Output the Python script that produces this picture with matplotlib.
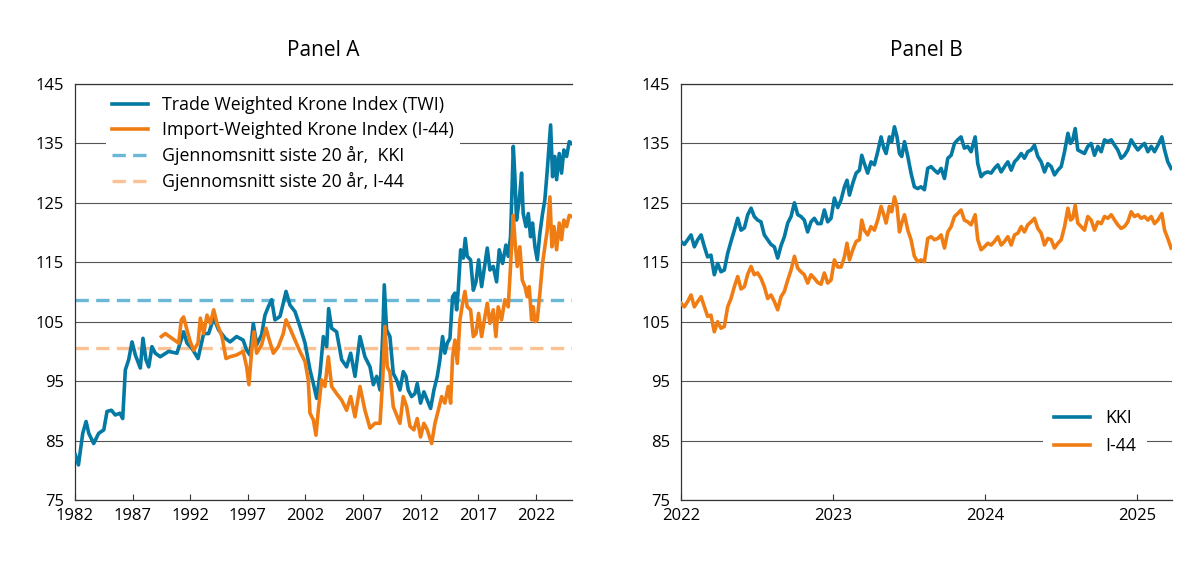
import numpy as np
import matplotlib

matplotlib.use("Agg")
import matplotlib.pyplot as plt

plt.rcParams["font.family"] = ["Open Sans", "DejaVu Sans"]

# Panel A: long history (decimal year, index)
a_twi_year = [1982.03, 1982.3, 1982.67, 1982.96, 1983.2, 1983.62, 1984.05, 1984.5,
              1984.78, 1985.16, 1985.5, 1985.9, 1986.14, 1986.37, 1986.66, 1986.95,
              1987.24, 1987.67, 1987.9, 1988.16, 1988.4, 1988.68, 1988.97, 1989.4,
              1990.13, 1990.85, 1991.43, 1991.72, 1992.16, 1992.68, 1993.17, 1993.6,
              1994.04, 1994.47, 1995.05, 1995.46, 1996.03, 1996.6, 1996.9, 1997.19,
              1997.48, 1997.77, 1998.2, 1998.49, 1998.78, 1999.07, 1999.36, 1999.8,
              2000.08, 2000.32, 2000.66, 2001.1, 2001.53, 2001.97, 2002.4, 2002.69,
              2002.98, 2003.27, 2003.56, 2003.85, 2004.02, 2004.28, 2004.71, 2005.15,
              2005.58, 2005.93, 2006.31, 2006.74, 2007.17, 2007.61, 2007.9, 2008.19,
              2008.48, 2008.71, 2008.85, 2009.05, 2009.34, 2009.63, 2009.92, 2010.21,
              2010.5, 2010.73, 2010.93, 2011.22, 2011.51, 2011.71, 2012.0, 2012.29,
              2012.58, 2012.87, 2013.16, 2013.45, 2013.68, 2013.91, 2014.11, 2014.32,
              2014.55, 2014.78, 2014.98, 2015.13, 2015.27, 2015.48, 2015.71, 2015.88,
              2016.05, 2016.34, 2016.58, 2016.81, 2017.04, 2017.3, 2017.59, 2017.79,
              2018.02, 2018.31, 2018.6, 2018.83, 2019.12, 2019.41, 2019.61, 2019.81,
              2019.93, 2020.05, 2020.19, 2020.33, 2020.57, 2020.77, 2020.91, 2021.15,
              2021.35, 2021.55, 2021.72, 2021.93, 2022.13, 2022.36, 2022.59, 2022.79,
              2023.0, 2023.17, 2023.29, 2023.46, 2023.66, 2023.81, 2024.04, 2024.24,
              2024.44, 2024.68, 2024.91, 2025.11]
a_twi = [82.6, 80.9, 86.2, 88.2, 86.2, 84.5, 86.2, 86.8,
         89.9, 90.1, 89.3, 89.6, 88.7, 96.9, 98.6, 101.6,
         99.4, 97.2, 102.2, 98.6, 97.4, 100.8, 99.7, 99.1,
         100.0, 99.7, 103.3, 101.4, 100.5, 98.8, 103.0, 103.0,
         105.6, 103.6, 102.2, 101.6, 102.5, 101.9, 100.2, 99.4,
         104.7, 101.1, 102.8, 106.1, 107.5, 108.7, 105.3, 105.9,
         108.1, 110.1, 107.8, 106.7, 104.2, 101.4, 96.9, 94.6,
         92.1, 96.3, 102.5, 100.8, 107.2, 103.9, 103.3, 98.6,
         97.4, 99.7, 95.8, 102.5, 99.1, 97.4, 94.4, 95.8,
         93.5, 102.5, 111.2, 103.6, 102.5, 96.3, 95.2, 93.5,
         96.6, 95.8, 93.5, 92.4, 92.9, 94.6, 91.3, 93.2,
         91.8, 90.4, 93.5, 95.8, 98.6, 102.5, 99.7, 101.4,
         102.2, 109.2, 109.8, 107.0, 110.3, 117.1, 115.7, 119.0,
         116.0, 115.4, 110.3, 111.7, 115.4, 110.9, 114.8, 117.4,
         113.7, 114.3, 111.7, 117.1, 114.8, 117.9, 116.0, 119.3,
         126.6, 134.5, 129.4, 122.1, 125.5, 130.0, 123.2, 121.0,
         123.2, 119.3, 121.6, 117.6, 115.4, 119.9, 123.2, 125.5,
         130.5, 135.0, 138.1, 129.4, 132.8, 128.9, 133.3, 130.0,
         133.9, 132.8, 135.3, 135.0]

a_i44_year = [1989.5, 1989.84, 1990.42, 1991.0, 1991.23, 1991.43, 1991.72, 1992.01,
              1992.3, 1992.68, 1992.88, 1993.17, 1993.46, 1993.75, 1994.04, 1994.33,
              1994.76, 1995.11, 1995.46, 1996.03, 1996.6, 1996.9, 1997.1, 1997.34,
              1997.54, 1997.77, 1998.2, 1998.58, 1998.87, 1999.22, 1999.65, 2000.08,
              2000.32, 2000.66, 2001.1, 2001.53, 2001.97, 2002.25, 2002.4, 2002.69,
              2002.92, 2003.12, 2003.41, 2003.7, 2003.99, 2004.28, 2004.71, 2005.15,
              2005.58, 2005.93, 2006.31, 2006.74, 2007.17, 2007.61, 2008.04, 2008.48,
              2008.71, 2008.91, 2009.11, 2009.34, 2009.63, 2009.92, 2010.21, 2010.5,
              2010.79, 2011.08, 2011.42, 2011.71, 2012.0, 2012.29, 2012.58, 2012.96,
              2013.25, 2013.54, 2013.83, 2014.11, 2014.4, 2014.61, 2014.78, 2014.98,
              2015.19, 2015.42, 2015.65, 2015.85, 2016.05, 2016.34, 2016.58, 2016.81,
              2017.04, 2017.3, 2017.59, 2017.79, 2018.02, 2018.31, 2018.54, 2018.74,
              2019.03, 2019.32, 2019.61, 2019.81, 2020.05, 2020.19, 2020.39, 2020.62,
              2020.83, 2021.06, 2021.26, 2021.43, 2021.64, 2021.78, 2021.93, 2022.13,
              2022.36, 2022.59, 2022.79, 2023.0, 2023.23, 2023.4, 2023.58, 2023.81,
              2024.04, 2024.24, 2024.44, 2024.68, 2024.91, 2025.11]
a_i44 = [102.5, 103.0, 102.2, 101.4, 105.3, 105.8, 103.6, 101.6,
         100.2, 101.4, 105.6, 103.0, 106.1, 104.7, 107.0, 104.7,
         102.5, 98.8, 99.1, 99.4, 100.0, 97.4, 94.4, 100.2,
         103.3, 99.7, 101.1, 103.9, 101.9, 99.7, 100.8, 103.0,
         105.3, 103.9, 101.9, 100.0, 98.3, 95.2, 89.6, 88.5,
         85.9, 90.1, 95.2, 94.1, 99.1, 94.1, 92.9, 91.8,
         90.1, 92.4, 89.0, 94.1, 90.1, 87.1, 87.9, 87.9,
         95.2, 104.2, 97.4, 96.5, 90.7, 89.3, 87.9, 92.4,
         90.7, 87.4, 86.8, 88.7, 85.6, 87.9, 86.8, 84.5,
         87.9, 90.1, 92.4, 91.3, 94.1, 91.3, 99.1, 101.9,
         98.0, 105.3, 108.1, 110.1, 107.5, 107.0, 102.5, 103.0,
         106.4, 102.5, 105.9, 108.1, 104.7, 107.0, 102.5, 107.5,
         105.3, 108.7, 107.5, 114.3, 122.9, 118.8, 114.3, 117.6,
         112.0, 110.9, 109.2, 110.9, 105.3, 107.5, 105.0, 105.3,
         109.8, 114.8, 117.6, 120.4, 126.0, 117.6, 121.0, 117.1,
         121.6, 118.8, 122.1, 121.0, 122.9, 122.7]

avg_kki = 108.7
avg_i44 = 100.5

# Panel B: 2022 onwards
b_year = [2022.000, 2022.022, 2022.044, 2022.066, 2022.088, 2022.110, 2022.132, 2022.154,
          2022.175, 2022.197, 2022.219, 2022.241, 2022.263, 2022.285, 2022.307, 2022.329,
          2022.351, 2022.373, 2022.395, 2022.417, 2022.439, 2022.461, 2022.482, 2022.504,
          2022.526, 2022.548, 2022.570, 2022.592, 2022.614, 2022.636, 2022.658, 2022.680,
          2022.702, 2022.724, 2022.746, 2022.768, 2022.789, 2022.811, 2022.833, 2022.855,
          2022.877, 2022.899, 2022.921, 2022.943, 2022.965, 2022.987, 2023.009,
          2023.031, 2023.053, 2023.075, 2023.092, 2023.108, 2023.130, 2023.152, 2023.174,
          2023.189, 2023.206, 2023.228, 2023.250, 2023.272, 2023.294, 2023.316, 2023.334,
          2023.349, 2023.371, 2023.386, 2023.404, 2023.421, 2023.437, 2023.452, 2023.470,
          2023.492, 2023.513, 2023.535, 2023.557, 2023.579, 2023.601, 2023.623, 2023.645,
          2023.667, 2023.689, 2023.711, 2023.733, 2023.755, 2023.777, 2023.799, 2023.820,
          2023.842, 2023.864, 2023.886, 2023.908, 2023.935, 2023.952, 2023.974, 2023.996,
          2024.018, 2024.040, 2024.062,
          2024.084, 2024.106, 2024.128, 2024.150, 2024.172, 2024.194, 2024.216, 2024.238,
          2024.259, 2024.281, 2024.303, 2024.325, 2024.347, 2024.369, 2024.391, 2024.413,
          2024.435, 2024.457, 2024.479, 2024.501, 2024.523, 2024.545, 2024.562, 2024.577,
          2024.593, 2024.610, 2024.632, 2024.654, 2024.676, 2024.698, 2024.720, 2024.742,
          2024.764, 2024.786, 2024.808, 2024.830, 2024.852, 2024.873, 2024.895, 2024.917,
          2024.939, 2024.961, 2024.983, 2025.005, 2025.027, 2025.049, 2025.071, 2025.093,
          2025.115, 2025.137, 2025.163, 2025.181, 2025.202, 2025.224]
b_kki = [118.5, 118.0, 118.8, 119.6, 117.6, 118.8, 119.6, 117.6,
         115.9, 116.2, 112.9, 114.8, 113.4, 113.7, 116.5, 118.5,
         120.4, 122.4, 120.4, 120.8, 123.0, 124.1, 122.7, 122.1,
         121.8, 119.6, 118.8, 118.0, 117.6, 115.7, 117.8, 119.3,
         121.6, 122.7, 125.0, 123.0, 122.7, 122.1, 120.1, 121.8,
         122.4, 121.5, 121.5, 123.8, 121.8, 122.4, 125.8,
         124.2, 125.5, 127.7, 128.8, 126.3, 128.3, 130.0, 130.5,
         133.0, 131.6, 130.0, 131.9, 131.4, 133.6, 136.1, 134.2,
         133.3, 136.1, 135.3, 137.8, 136.1, 133.3, 132.8, 135.3,
         132.8, 130.0, 127.7, 127.4, 127.7, 127.2, 130.8, 131.1,
         130.5, 130.0, 130.8, 129.1, 132.5, 133.0, 135.0, 135.6,
         136.1, 134.2, 134.5, 133.6, 136.1, 131.6, 129.4, 130.0,
         130.2, 130.0, 130.8,
         131.4, 130.2, 131.1, 131.9, 130.5, 131.9, 132.5, 133.3,
         132.5, 133.6, 133.9, 134.7, 132.8, 131.9, 130.2, 131.6,
         131.1, 129.7, 130.5, 131.1, 133.6, 136.7, 135.0, 135.6,
         137.5, 133.9, 133.6, 133.3, 134.5, 135.0, 133.0, 134.5,
         133.6, 135.6, 135.3, 135.6, 134.7, 133.9, 132.5, 133.0,
         133.9, 135.6, 134.7, 133.9, 134.5, 135.0, 133.6, 134.5,
         133.6, 134.7, 136.1, 133.9, 131.9, 130.8]
b_i44 = [108.1, 107.5, 108.4, 109.5, 107.5, 108.4, 109.2, 107.5,
         105.9, 106.1, 103.3, 105.0, 103.9, 104.2, 107.5, 108.9,
         110.9, 112.6, 110.5, 110.9, 113.0, 114.3, 112.9, 113.2,
         112.3, 110.9, 108.9, 109.5, 108.4, 107.0, 109.2, 110.1,
         112.0, 113.7, 116.0, 114.0, 113.4, 112.9, 111.5, 112.9,
         112.3, 111.6, 111.3, 113.2, 111.5, 112.0, 115.4,
         114.2, 114.2, 115.9, 118.2, 115.4, 117.1, 118.5, 118.8,
         122.1, 120.4, 119.6, 121.0, 120.4, 122.1, 124.4, 123.0,
         121.6, 124.4, 123.5, 126.0, 124.4, 120.1, 121.6, 123.0,
         120.4, 118.8, 116.0, 115.1, 115.4, 115.1, 119.0, 119.3,
         118.8, 119.0, 119.6, 117.4, 120.1, 121.0, 122.7, 123.2,
         123.8, 122.1, 121.8, 121.3, 123.0, 118.8, 117.1, 117.6,
         118.2, 117.9, 118.5,
         119.3, 117.9, 118.5, 119.3, 117.9, 119.6, 119.9, 121.0,
         120.1, 121.3, 121.8, 122.4, 120.7, 119.9, 117.9, 119.0,
         118.8, 117.4, 118.2, 118.8, 121.0, 124.1, 122.1, 122.4,
         124.6, 121.6, 121.0, 120.4, 122.7, 122.1, 120.4, 121.8,
         121.5, 122.7, 122.4, 123.0, 122.1, 121.3, 120.7, 121.0,
         121.8, 123.5, 122.7, 123.0, 122.4, 122.7, 122.1, 122.7,
         121.5, 122.1, 123.2, 120.4, 119.0, 117.4]

yticks = [75, 85, 95, 105, 115, 125, 135, 145]
a_xticks = [1982, 1987, 1992, 1997, 2002, 2007, 2012, 2017, 2022]
b_xticks = [2022, 2023, 2024, 2025]

BLUE = "#0479a4"
ORANGE = "#f07d14"
LBLUE = "#6ab7d6"
LORANGE = "#f9c194"
GRID = "#555555"


def style_axes(ax, xlim, xticks):
    ax.set_ylim(75, 145)
    ax.set_xlim(*xlim)
    ax.set_yticks(yticks)
    ax.set_xticks(xticks)
    ax.set_xticklabels([str(t) for t in xticks])
    ax.grid(axis="y", color=GRID, lw=0.8)
    ax.set_axisbelow(True)
    ax.spines["right"].set_visible(False)
    for s in ("left", "bottom", "top"):
        ax.spines[s].set_color("#333333")
        ax.spines[s].set_linewidth(0.9)
    ax.tick_params(axis="y", length=0, pad=8, labelsize=12)
    ax.tick_params(axis="x", direction="in", length=4, color="#333333",
                   pad=6, labelsize=12)


fig = plt.figure(figsize=(12, 5.69), dpi=100)
ax_a = fig.add_axes([0.0625, 0.1213, 0.4142, 0.7311])
ax_b = fig.add_axes([0.5675, 0.1213, 0.4092, 0.7311])

# Panel A
ax_a.plot(a_twi_year, a_twi, color=BLUE, lw=2.6, solid_joinstyle="round",
          label="Trade Weighted Krone Index (TWI)", zorder=3)
ax_a.plot(a_i44_year, a_i44, color=ORANGE, lw=2.6, solid_joinstyle="round",
          label="Import-Weighted Krone Index (I-44)", zorder=3)
ax_a.axhline(avg_kki, color=LBLUE, lw=2.4, dashes=(4, 2.2),
             label="Gjennomsnitt siste 20 år,  KKI", zorder=2)
ax_a.axhline(avg_i44, color=LORANGE, lw=2.4, dashes=(4, 2.2),
             label="Gjennomsnitt siste 20 år, I-44", zorder=2)
style_axes(ax_a, (1982, 2025.15), a_xticks)
ax_a.set_title("Panel A", fontsize=15, pad=20)
leg = ax_a.legend(loc="upper left", bbox_to_anchor=(0.055, 0.995),
                  fontsize=12.8, frameon=True, fancybox=False, framealpha=1,
                  edgecolor="none", facecolor="white", handlelength=2.0,
                  handletextpad=0.8, labelspacing=0.4, borderpad=0.35,
                  borderaxespad=0.2)
leg.set_zorder(5)

# Panel B
ax_b.plot(b_year, b_kki, color=BLUE, lw=2.6, solid_joinstyle="round",
          label="KKI", zorder=3)
ax_b.plot(b_year, b_i44, color=ORANGE, lw=2.6, solid_joinstyle="round",
          label="I-44", zorder=3)
style_axes(ax_b, (2022, 2025.23), b_xticks)
ax_b.set_title("Panel B", fontsize=15, pad=20)
leg = ax_b.legend(loc="lower left", bbox_to_anchor=(0.72, 0.06),
                  fontsize=12.8, frameon=True, fancybox=False, framealpha=1,
                  edgecolor="none", facecolor="white", handlelength=2.0,
                  handletextpad=0.9, labelspacing=0.6, borderpad=0.6)
leg.set_zorder(5)

fig.savefig("out.png", dpi=100)
